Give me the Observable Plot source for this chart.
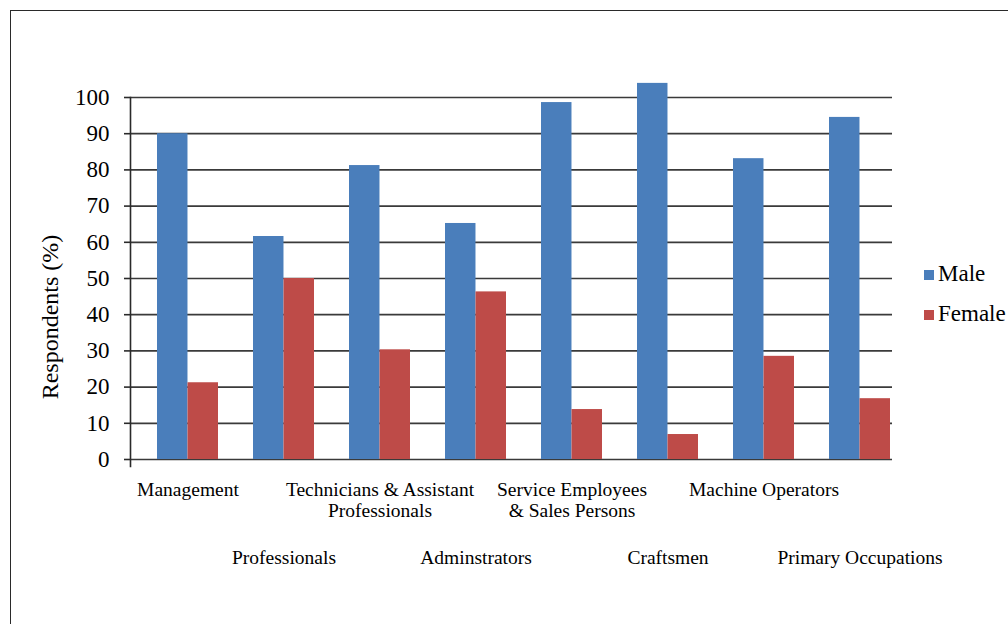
<!DOCTYPE html>
<html>
<head>
<meta charset="utf-8">
<script src="https://cdn.jsdelivr.net/npm/d3@7"></script>
<script src="https://cdn.jsdelivr.net/npm/@observablehq/plot@0.6"></script>
<style>
  html, body { margin: 0; padding: 0; background: #fff; overflow: hidden; }
  #wrap { position: relative; width: 1008px; height: 624px; overflow: hidden; font-family: 'Liberation Serif', 'DejaVu Serif', serif; color: #000; }
  #wrap svg text { font-family: 'Liberation Serif', 'DejaVu Serif', serif !important; }
  #frame { position: absolute; left: 10px; top: 10px; width: 1200px; height: 800px; border: 1.6px solid #2a2a2a; box-sizing: border-box; }
  #chart { position: absolute; left: 0; top: 0; }
  #ylabel { position: absolute; left: 50px; top: 317px; width: 0; height: 0; }
  #ylabel span { position: absolute; left: 0; top: 0; transform: translate(-50%, -50%) rotate(-90deg); font-size: 24px; white-space: nowrap; line-height: 1; }
  .leg { position: absolute; left: 924px; font-size: 23px; line-height: 1; white-space: nowrap; }
  .leg span.sw { display: inline-block; width: 10px; height: 10px; margin-right: 4px; vertical-align: 1px; }
</style>
</head>
<body>
<div id="wrap">
  <div id="frame"></div>
  <div id="chart"></div>
  <div id="ylabel"><span style="font-family:'Liberation Serif','DejaVu Serif',serif">Respondents (%)</span></div>
  <div id="legend"></div>
</div>
<script>
// ---- data ----
const categories = [
  "Management",
  "Professionals",
  "Technicians & Assistant\nProfessionals",
  "Adminstrators",
  "Service Employees\n& Sales Persons",
  "Craftsmen",
  "Machine Operators",
  "Primary Occupations"
];
const series = ["Male", "Female"];
const maleValues   = [90, 61.6, 81.2, 65.2, 98.6, 103.9, 83.1, 94.5];
const femaleValues = [21.2, 50, 30.3, 46.3, 13.8, 6.9, 28.5, 16.8];
const seriesColors = ["#4A7EBB", "#BE4B48"];
const yTicks = [0, 10, 20, 30, 40, 50, 60, 70, 80, 90, 100];

const maleRows = categories.map((c, i) => ({category: c, series: "Male", value: maleValues[i]}));
const femaleRows = categories.map((c, i) => ({category: c, series: "Female", value: femaleValues[i]}));

const serif = "'Liberation Serif', 'DejaVu Serif', serif";
const xRange = [138.4, 908.6];
const innerPad = 0.366, outerPad = 0.183;
const step = (xRange[1] - xRange[0]) / (categories.length - innerPad + 2 * outerPad);
const halfBand = step * (1 - innerPad) / 2;

const chart = Plot.plot({
  width: 1008,
  height: 624,
  marginLeft: 130,
  marginRight: 116,
  marginTop: 97,
  marginBottom: 165,
  style: {fontFamily: serif, fontSize: "20px", color: "#000", background: "transparent", overflow: "visible"},
  x: {domain: categories, range: xRange, paddingInner: innerPad, paddingOuter: outerPad, axis: null},
  y: {domain: [0, 100], axis: null},
  color: {domain: series, range: seriesColors},
  marks: [
    Plot.gridY(yTicks, {stroke: "#3a3a3a", strokeOpacity: 1, strokeWidth: 1.7}),
    Plot.barY(maleRows, {x: "category", y: "value", fill: "series", insetRight: halfBand}),
    Plot.barY(femaleRows, {x: "category", y: "value", fill: "series", insetLeft: halfBand}),
    Plot.frame({anchor: "left", insetBottom: -7, stroke: "#2a2a2a", strokeWidth: 1.6}),
    Plot.axisY(yTicks, {anchor: "left", tickSize: 6, tickPadding: 15, fontSize: 23, fontFamily: serif, stroke: "#2a2a2a", strokeWidth: 1.6, tickFormat: d => String(d), label: null}),
    Plot.axisX({anchor: "bottom", tickSize: 0, tickPadding: 21, lineHeight: 1.1, fontSize: 19.5, fontFamily: serif, label: null,
      tickFormat: d => categories.indexOf(d) % 2 === 0 ? d : ""}),
    Plot.axisX({anchor: "bottom", tickSize: 0, tickPadding: 89, lineHeight: 1.1, fontSize: 19.5, fontFamily: serif, label: null,
      tickFormat: d => categories.indexOf(d) % 2 === 1 ? d : ""})
  ]
});
document.getElementById("chart").appendChild(chart);

// legend
const legend = document.getElementById("legend");
const legendTops = [262, 302];
series.forEach((s, i) => {
  const d = document.createElement("div");
  d.className = "leg";
  d.style.top = legendTops[i] + "px";
  d.style.fontFamily = serif;
  d.innerHTML = `<span class="sw" style="background:${seriesColors[i]}"></span>${s}`;
  legend.appendChild(d);
});
</script>
</body>
</html>
